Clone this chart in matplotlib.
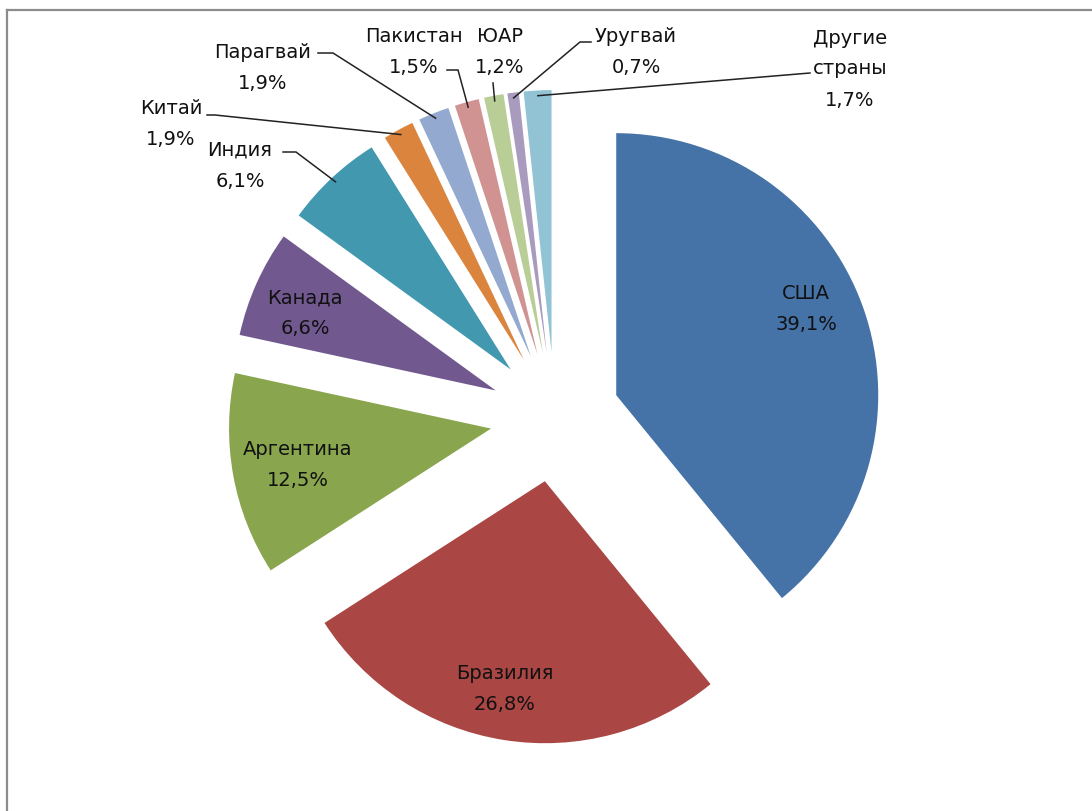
import math

import matplotlib
matplotlib.use("Agg")
from matplotlib import pyplot as plt
from matplotlib.lines import Line2D

# data
countries = ["США", "Бразилия", "Аргентина", "Канада", "Индия", "Китай",
             "Парагвай", "Пакистан", "ЮАР", "Уругвай", "Другие\nстраны"]
shares = [39.1, 26.8, 12.5, 6.6, 6.1, 1.9, 1.9, 1.5, 1.2, 0.7, 1.7]
colors = ["#4572A7", "#AA4643", "#89A54E", "#71588F", "#4198AF", "#DB843D",
          "#93A9CF", "#D19392", "#B9CD96", "#A99BBD", "#92C3D5"]

# layout (pixels of the 1092x811 picture)
W, H = 1092, 811
CX, CY, R = 555, 417, 262
EXPLODE = 65 / R
FS = 14
LS = 1.8

# label block centres for slices labelled inside the pie
inside_pos = {0: (806, 309), 1: (505, 689), 2: (298, 465), 3: (305, 313)}
# label block centres + leader line start/elbow for slices labelled outside
outside_pos = {
    4: ((240, 166), [(283, 152), (296, 152)]),
    5: ((171, 124), [(207, 115), (215, 115)]),
    6: ((263, 68), [(318, 53), (333, 53)]),
    7: ((414, 52), [(447, 70), (458, 70)]),
    8: ((500, 52), [(493, 83)]),
    9: ((636, 52), [(591, 42), (580, 42)]),
    10: ((850, 69), [(810, 73)]),
}


def px(x, y):
    return (x - CX) / R, (CY - y) / R


def fmt(v):
    return f"{v:.1f}".replace(".", ",") + "%"


fig = plt.figure(figsize=(W / 100, H / 100), dpi=100)
ax = fig.add_axes([0, 0, 1, 1])

wedges, _ = ax.pie(shares, colors=colors, startangle=90, counterclock=False,
                   explode=[EXPLODE] * len(shares), radius=1, center=(0, 0),
                   wedgeprops=dict(linewidth=0))

ax.set_aspect("auto")
ax.set_xlim(px(0, 0)[0], px(W, 0)[0])
ax.set_ylim(px(0, H)[1], px(0, 0)[1])
ax.axis("off")

for i, (x, y) in inside_pos.items():
    ax.text(*px(x, y), f"{countries[i]}\n{fmt(shares[i])}", ha="center", va="center",
            fontsize=FS, color="#111111", linespacing=LS)

for i, ((x, y), path) in outside_pos.items():
    ax.text(*px(x, y), f"{countries[i]}\n{fmt(shares[i])}", ha="center", va="center",
            fontsize=FS, color="#111111", linespacing=LS)
    w = wedges[i]
    tm = math.radians((w.theta1 + w.theta2) / 2)
    cx, cy = w.center
    anchor = (cx + 0.98 * w.r * math.cos(tm), cy + 0.98 * w.r * math.sin(tm))
    pts = [px(*p) for p in path] + [anchor]
    ax.plot([p[0] for p in pts], [p[1] for p in pts], color="#222222", lw=1.1,
            solid_joinstyle="miter")

# frame of the chart area (left and top edges only are visible)
fig.add_artist(Line2D([7 / W, 7 / W], [0, 1 - 10 / H], color="#8c8c8c", lw=1.6,
                      transform=fig.transFigure))
fig.add_artist(Line2D([7 / W, 1], [1 - 10 / H, 1 - 10 / H], color="#8c8c8c", lw=1.6,
                      transform=fig.transFigure))

fig.savefig("out.png", dpi=100)
